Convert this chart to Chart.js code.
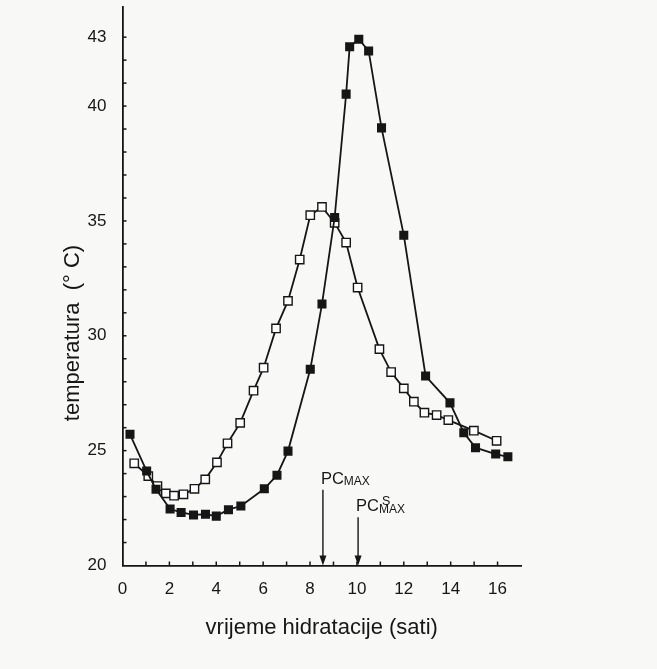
<!DOCTYPE html>
<html>
<head>
<meta charset="utf-8">
<script src="https://cdn.jsdelivr.net/npm/chart.js@4.4.0/dist/chart.umd.min.js"></script>
<style>
  html, body { margin: 0; padding: 0; background: #f8f8f6; }
  #wrap { width: 657px; height: 669px; }
</style>
</head>
<body>
<div id="wrap"><canvas id="chart" width="657" height="669"></canvas></div>
<script>
// hydration time (h) vs temperature (°C)
const filledHours = [0.32, 1.03, 1.43, 2.03, 2.5, 3.03, 3.54, 4.0, 4.52, 5.05, 6.05, 6.59, 7.06, 8.01, 8.51,
  9.05, 9.54, 9.69, 10.08, 10.5, 11.05, 12.0, 12.93, 13.97, 14.56, 15.06, 15.92, 16.44];
const filledTemps = [25.71, 24.11, 23.32, 22.46, 22.31, 22.2, 22.23, 22.15, 22.43, 22.59, 23.34, 23.93, 24.98, 28.54, 31.38,
  35.15, 40.52, 42.58, 42.91, 42.4, 39.05, 34.38, 28.25, 27.08, 25.78, 25.13, 24.85, 24.73];

const openHours = [0.5, 1.1, 1.49, 1.85, 2.2, 2.6, 3.07, 3.53, 4.03, 4.48, 5.02, 5.59, 6.02, 6.55, 7.06, 7.56,
  8.01, 8.51, 9.05, 9.54, 10.03, 10.96, 11.46, 12.0, 12.43, 12.88, 13.4, 13.9, 14.99, 15.96];
const openTemps = [24.45, 23.89, 23.46, 23.14, 23.04, 23.1, 23.34, 23.75, 24.49, 25.32, 26.21, 27.61, 28.61, 30.32, 31.52, 33.32,
  35.25, 35.61, 34.92, 34.06, 32.1, 29.42, 28.42, 27.71, 27.13, 26.65, 26.55, 26.33, 25.87, 25.43];

const xTickLabels = [0, 2, 4, 6, 8, 10, 12, 14, 16];
const yTickLabels = [20, 25, 30, 35, 40, 43];

// PC max arrows
const markerHours = [8.55, 10.05];
const markerTops = [23.3, 22.1];
const markerSup = ['', 'S'];

const yTitle = 'temperatura  (° C)';

const ink = '#161616';
const font = "'Liberation Sans', Arial, sans-serif";

const toPoints = (xs, ys) => xs.map((x, i) => ({ x: x, y: ys[i] }));

const yTickValues = [];
for (let v = 20; v <= 43; v++) yTickValues.push(v);
const xTickValues = [];
for (let v = 0; v <= 16; v++) xTickValues.push(v);

// inward ticks, arrows, PC labels and the y title (sits below centre in the scan)
const extras = {
  id: 'extras',
  afterDraw(chart) {
    const { ctx, scales: { x, y } } = chart;
    ctx.save();
    ctx.strokeStyle = ink;
    ctx.fillStyle = ink;
    ctx.lineWidth = 1.5;

    xTickValues.forEach(v => {
      if (v === 0) return;
      const px = x.getPixelForValue(v);
      ctx.beginPath();
      ctx.moveTo(px, y.bottom);
      ctx.lineTo(px, y.bottom - 4);
      ctx.stroke();
    });
    yTickValues.forEach(v => {
      if (v === 20) return;
      const py = y.getPixelForValue(v);
      ctx.beginPath();
      ctx.moveTo(x.left, py);
      ctx.lineTo(x.left + 4, py);
      ctx.stroke();
    });

    markerHours.forEach((h, i) => {
      const px = x.getPixelForValue(h);
      const top = y.getPixelForValue(markerTops[i]);
      const bottom = y.bottom;
      ctx.lineWidth = 1.4;
      ctx.beginPath();
      ctx.moveTo(px, top);
      ctx.lineTo(px, bottom - 9);
      ctx.stroke();
      ctx.beginPath();
      ctx.moveTo(px - 3.5, bottom - 10);
      ctx.lineTo(px + 3.5, bottom - 10);
      ctx.lineTo(px, bottom);
      ctx.closePath();
      ctx.fill();

      const tx = px - 2;
      const base = top - 6;
      ctx.textBaseline = 'alphabetic';
      ctx.textAlign = 'left';
      ctx.font = '16.5px ' + font;
      ctx.fillText('PC', tx, base);
      const w = ctx.measureText('PC').width;
      ctx.font = '12px ' + font;
      ctx.fillText('MAX', tx + w, base + 1.5);
      if (markerSup[i]) {
        ctx.font = '12.5px ' + font;
        ctx.fillText(markerSup[i], tx + w + 3, base - 6);
      }
    });

    ctx.translate(73, 333);
    ctx.rotate(-Math.PI / 2);
    ctx.textAlign = 'center';
    ctx.textBaseline = 'middle';
    ctx.font = '22px ' + font;
    ctx.fillText(yTitle, 0, 0);
    ctx.restore();
  }
};

new Chart(document.getElementById('chart'), {
  type: 'scatter',
  data: {
    datasets: [
      {
        label: 'filled',
        data: toPoints(filledHours, filledTemps),
        showLine: true,
        borderColor: ink,
        borderWidth: 1.8,
        backgroundColor: ink,
        pointStyle: 'rect',
        pointRadius: 6.4,
        pointBorderWidth: 0,
        tension: 0,
      },
      {
        label: 'open',
        data: toPoints(openHours, openTemps),
        showLine: true,
        borderColor: ink,
        borderWidth: 1.8,
        pointBackgroundColor: '#ffffff',
        pointBorderColor: ink,
        pointBorderWidth: 1.4,
        pointStyle: 'rect',
        pointRadius: 5.9,
        tension: 0,
      },
    ],
  },
  options: {
    responsive: false,
    animation: false,
    devicePixelRatio: 1,
    layout: { padding: { top: 7, right: 136, left: 0, bottom: 0 } },
    plugins: { legend: { display: false }, tooltip: { enabled: false } },
    scales: {
      x: {
        type: 'linear',
        min: 0,
        max: 17,
        afterBuildTicks: axis => { axis.ticks = xTickValues.map(value => ({ value })); },
        afterFit: scale => { scale.height = 103.5; scale.paddingLeft = 0; scale.paddingRight = 0; },
        grid: { display: false },
        border: { display: true, color: ink, width: 1.8 },
        ticks: {
          autoSkip: false,
          maxRotation: 0,
          padding: 6,
          color: ink,
          font: { family: font, size: 17 },
          callback: v => (xTickLabels.includes(v) ? v : ''),
        },
        title: {
          display: true,
          text: 'vrijeme hidratacije (sati)',
          color: ink,
          font: { family: font, size: 22 },
          padding: { bottom: 28 },
        },
      },
      y: {
        type: 'linear',
        min: 20,
        max: 44.3,
        afterBuildTicks: axis => { axis.ticks = yTickValues.map(value => ({ value })); },
        afterFit: scale => { scale.width = 122.5; scale.paddingTop = 0; scale.paddingBottom = 0; },
        grid: { display: false },
        border: { display: true, color: ink, width: 1.8 },
        ticks: {
          autoSkip: false,
          padding: 8,
          color: ink,
          font: { family: font, size: 17 },
          callback: v => (yTickLabels.includes(v) ? v : ''),
        },
      },
    },
  },
  plugins: [extras],
});
</script>
</body>
</html>
